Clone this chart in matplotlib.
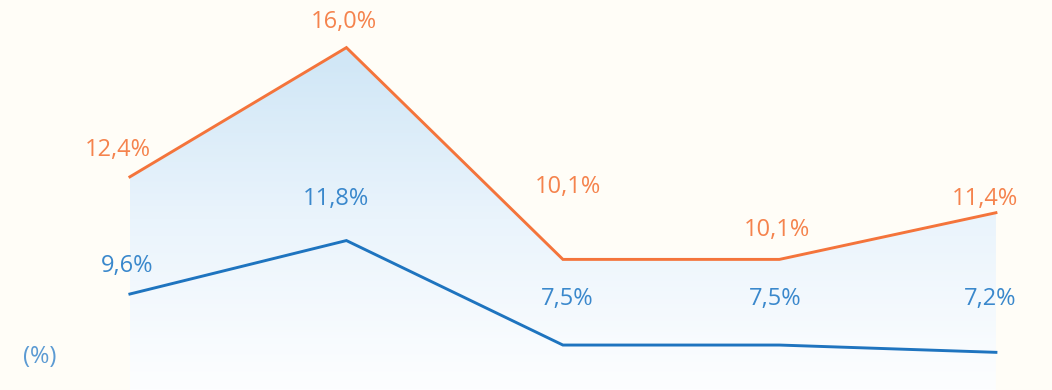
import numpy as np
import matplotlib
matplotlib.use("Agg")
import matplotlib.pyplot as plt
from matplotlib.colors import LinearSegmentedColormap
from matplotlib.patches import Polygon

# data
periods = [0, 1, 2, 3, 4]
orange_vals = [12.4, 16.0, 10.1, 10.1, 11.4]
blue_vals = [9.6, 11.8, 7.5, 7.5, 7.2]
orange_labels = ["12,4%", "16,0%", "10,1%", "10,1%", "11,4%"]
blue_labels = ["9,6%", "11,8%", "7,5%", "7,5%", "7,2%"]

# label offsets in pixels (dx, dy up)
orange_off = [(-12, 27), (-3, 26), (5, 72), (-2, 29), (-11, 14)]
blue_off = [(-3, 28), (-10, 42), (4, 46), (-4, 46), (-6, 53)]

BG = "#fffdf7"
ORANGE = "#f4743b"
ORANGE_TXT = "#f5834d"
BLUE = "#1e74bf"
BLUE_TXT = "#3a88cc"

plt.rcParams["font.family"] = ["Open Sans", "DejaVu Sans"]

fig = plt.figure(figsize=(10.52, 3.9), dpi=100, facecolor=BG)
ax = fig.add_axes([0, 0, 1, 1])
ax.set_facecolor(BG)
ax.set_xlim(-0.600, 4.259)
ax.set_ylim(6.462, 17.326)
ax.axis("off")

bx = ax.twinx()
bx.set_ylim(5.65, 21.70)
bx.axis("off")

# gradient fill under the orange line
ymin, ymax = ax.get_ylim()
cmap = LinearSegmentedColormap.from_list("g", ["#fdfeff", "#eaf4fc", "#cfe6f6"])
grad = np.linspace(0, 1, 256).reshape(-1, 1)
im = ax.imshow(grad, cmap=cmap, aspect="auto", origin="lower",
               extent=[periods[0], periods[-1], ymin, max(orange_vals)], zorder=1)
verts = [(periods[0], ymin)] + list(zip(periods, orange_vals)) + [(periods[-1], ymin)]
poly = Polygon(verts, closed=True, facecolor="none", edgecolor="none")
ax.add_patch(poly)
im.set_clip_path(poly)

ax.plot(periods, orange_vals, color=ORANGE, lw=2.1, zorder=3, solid_joinstyle="miter")
bx.plot(periods, blue_vals, color=BLUE, lw=2.1, zorder=3, solid_joinstyle="miter")

pt = 72 / fig.dpi
for x, v, s, (dx, dy) in zip(periods, orange_vals, orange_labels, orange_off):
    ax.annotate(s, (x, v), xytext=(dx * pt, dy * pt), textcoords="offset points",
                ha="center", va="center", fontsize=17, color=ORANGE_TXT)
for x, v, s, (dx, dy) in zip(periods, blue_vals, blue_labels, blue_off):
    bx.annotate(s, (x, v), xytext=(dx * pt, dy * pt), textcoords="offset points",
                ha="center", va="center", fontsize=17, color=BLUE_TXT)

fig.text(40 / 1052, 1 - 357 / 390, "(%)", ha="center", va="center",
         fontsize=17, color="#5b9ad3")

fig.savefig("out.png", dpi=100, facecolor=BG)
